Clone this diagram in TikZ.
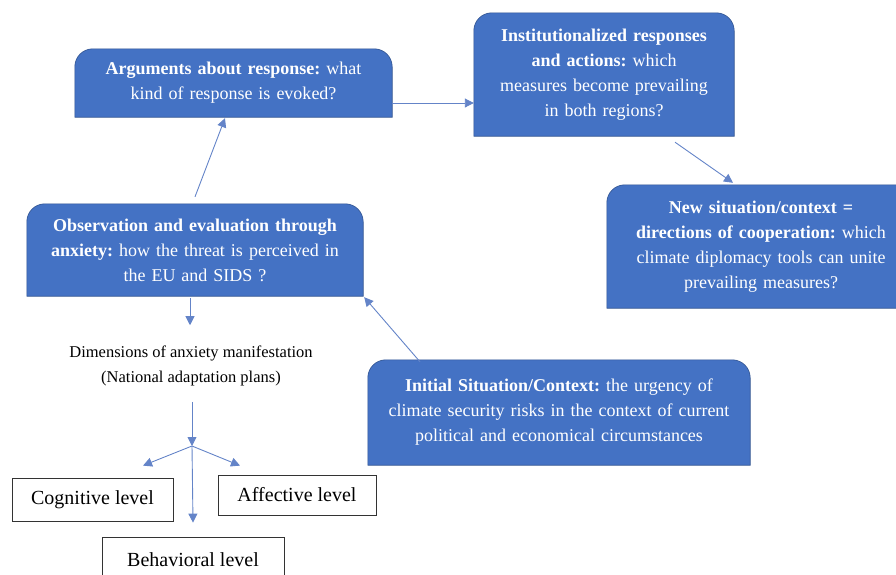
\documentclass[tikz,border=0pt]{standalone}
\usepackage{fontspec}
\setmainfont{Liberation Serif}
\usetikzlibrary{arrows.meta, backgrounds}

\definecolor{boxblue}{RGB}{68,114,196}
\definecolor{boxedge}{RGB}{47,82,143}
\definecolor{linkblue}{RGB}{100,132,200}

\frenchspacing

\begin{document}
\begin{tikzpicture}[x=1pt, y=1pt, >={Triangle[length=9pt, width=9pt]},
    panel/.style={align=center, text=white, inner xsep=0pt, inner ysep=0pt, font=\fontsize{18}{25}\selectfont},
    panelfill/.style={fill=boxblue, draw=boxedge, line width=0.6pt},
    level/.style={draw=black!80, line width=0.8pt, fill=white, inner sep=0pt, font=\fontsize{20}{24}\selectfont},
    link/.style={->, linkblue, line width=0.9pt}
]

% Fix the frame of the picture
\useasboundingbox (0,0) rectangle (896,-574);
\clip (0,0) rectangle (896,-574);

% Blue panels (text, shapes are drawn behind)
\node[panel, text width=317pt, minimum height=68pt] (args) at (233.5,-83)
    {\textbf{Arguments about response:} what\\ kind of response is evoked?};
\node[panel, text width=260pt, minimum height=123pt] (inst) at (604,-74.5)
    {\textbf{Institutionalized responses}\\ \textbf{and actions:} which\\ measures become prevailing\\ in both regions?};
\node[panel, text width=308pt, minimum height=123pt] (newctx) at (761,-246.5)
    {\textbf{New situation/context =}\\ \textbf{directions of cooperation:} which\\ climate diplomacy tools can unite\\ prevailing measures?};
\node[panel, text width=336pt, minimum height=92pt] (obs) at (195,-250)
    {\textbf{Observation and evaluation through}\\ \textbf{anxiety:} how the threat is perceived in\\ the EU and SIDS ?};
\node[panel, text width=382pt, minimum height=105pt] (init) at (559,-412.5)
    {\textbf{Initial Situation/Context:} the urgency of\\ climate security risks in the context of current\\ political and economical circumstances};

% Draw the panel shapes, rounded on top only
\begin{scope}[on background layer]
  \clip (0,0) rectangle (896,-574);
  \foreach \n in {args, inst, newctx, obs, init}
    \draw[panelfill] (\n.south west) -- ([yshift=-18pt]\n.north west)
      arc[start angle=180, end angle=90, radius=18pt] -- ([xshift=-18pt]\n.north east)
      arc[start angle=90, end angle=0, radius=18pt] -- (\n.south east) -- cycle;
\end{scope}

% Dimensions text and the three levels
\node[align=center, inner sep=0pt, font=\fontsize{16.5}{25}\selectfont] (dims) at (191,-365.5)
    {Dimensions of anxiety manifestation\\ (National adaptation plans)};
\coordinate (fork) at (192,-446);
\node[level, minimum width=161pt, minimum height=43pt] (cog) at (92.5,-499.5) {Cognitive level};
\node[level, minimum width=158pt, minimum height=40pt] (aff) at (297,-495) {Affective level};
\node[level, minimum width=182pt, minimum height=45pt] (beh) at (193,-559.5) {Behavioral level};

% Draw the cycle of arrows
\draw[link] ([yshift=7pt]obs.north) -- ([xshift=-8.5pt,yshift=-1pt]args.south);
\draw[link] ([yshift=-20pt]args.east) -- ([yshift=-28.5pt]inst.west);
\draw[link] ([xshift=71pt,yshift=-6pt]inst.south) -- ([xshift=-28pt,yshift=2pt]newctx.north);
\draw[link] ([xshift=-139pt,yshift=-2pt]init.north) -- ([xshift=1pt,yshift=-1pt]obs.south east);

% Arrows down to the levels
\draw[link] ([xshift=-5pt,yshift=-2pt]obs.south) -- ([xshift=-1pt,yshift=20pt]dims.north);
\draw[link] ([xshift=1pt,yshift=-16pt]dims.south) -- (fork);
\draw[link] (fork) -- ([xshift=50.5pt,yshift=12pt]cog.north);
\draw[link] (fork) -- ([xshift=-57pt,yshift=9pt]aff.north);
\draw[link] (fork) -- ([yshift=14pt]beh.north);

\end{tikzpicture}
\end{document}
